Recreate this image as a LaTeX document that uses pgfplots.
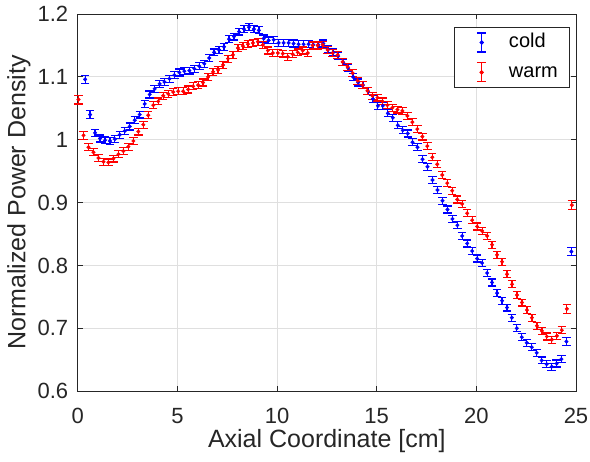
\documentclass[border=0pt]{standalone}
\usepackage{fontspec}
\setmainfont{Liberation Sans}
\usepackage{pgfplots}
\pgfplotsset{compat=1.18}
\usepackage{pgfplotstable}
\definecolor{axgray}{RGB}{38,38,38}
\definecolor{gridgray}{RGB}{223,223,223}

\pgfplotstableread{
x y e
0.37 1.096 0.0066
0.62 1.040 0.0066
0.87 1.011 0.0055
1.12 1.002 0.0055
1.37 0.999 0.0055
1.62 0.998 0.0055
1.86 1.001 0.0055
2.11 1.008 0.0055
2.36 1.014 0.0055
2.61 1.021 0.0055
2.86 1.031 0.0055
3.11 1.040 0.0055
3.36 1.057 0.0055
3.61 1.072 0.0055
3.86 1.081 0.0055
4.11 1.089 0.0055
4.35 1.092 0.0055
4.60 1.097 0.0055
4.85 1.103 0.0055
5.10 1.107 0.0055
5.35 1.109 0.0055
5.60 1.110 0.0055
5.85 1.113 0.0055
6.10 1.117 0.0055
6.35 1.121 0.0055
6.60 1.130 0.0055
6.84 1.139 0.0055
7.09 1.143 0.0055
7.34 1.148 0.0055
7.59 1.160 0.0055
7.84 1.164 0.0055
8.09 1.172 0.0055
8.34 1.176 0.0055
8.59 1.179 0.0055
8.84 1.176 0.0055
9.09 1.174 0.0055
9.33 1.161 0.0055
9.58 1.158 0.0055
9.83 1.159 0.0055
10.08 1.154 0.0055
10.33 1.154 0.0055
10.58 1.154 0.0055
10.83 1.153 0.0055
11.08 1.152 0.0055
11.33 1.152 0.0055
11.58 1.152 0.0055
11.82 1.151 0.0055
12.07 1.151 0.0055
12.32 1.153 0.0055
12.57 1.144 0.0055
12.82 1.139 0.0055
13.07 1.133 0.0055
13.32 1.123 0.0055
13.57 1.114 0.0055
13.82 1.100 0.0055
14.07 1.091 0.0055
14.31 1.087 0.0055
14.56 1.077 0.0055
14.81 1.065 0.0055
15.06 1.054 0.0055
15.31 1.054 0.0055
15.56 1.042 0.0055
15.81 1.035 0.0055
16.06 1.023 0.0055
16.31 1.015 0.0055
16.56 1.010 0.0055
16.80 0.996 0.0055
17.05 0.988 0.0055
17.30 0.969 0.0055
17.55 0.957 0.0055
17.80 0.936 0.0055
18.05 0.920 0.0055
18.30 0.903 0.0055
18.55 0.889 0.0055
18.80 0.874 0.0055
19.05 0.864 0.0055
19.29 0.847 0.0055
19.54 0.835 0.0055
19.79 0.823 0.0055
20.04 0.811 0.0055
20.29 0.804 0.0055
20.54 0.788 0.0055
20.79 0.773 0.0055
21.04 0.756 0.0055
21.29 0.744 0.0055
21.54 0.733 0.0055
21.78 0.717 0.0055
22.03 0.700 0.0055
22.28 0.686 0.0055
22.53 0.677 0.0055
22.78 0.670 0.0055
23.03 0.661 0.0055
23.28 0.649 0.0055
23.53 0.643 0.0055
23.78 0.639 0.0055
24.03 0.644 0.0055
24.27 0.651 0.0055
24.52 0.679 0.0060
24.77 0.822 0.0066
}\colddata

\pgfplotstableread{
x y e
0.04 1.064 0.0070
0.29 1.007 0.0060
0.54 0.988 0.0055
0.79 0.980 0.0055
1.04 0.971 0.0055
1.29 0.965 0.0055
1.54 0.964 0.0055
1.79 0.970 0.0055
2.04 0.977 0.0055
2.29 0.982 0.0055
2.54 0.989 0.0055
2.79 0.998 0.0055
3.04 1.013 0.0055
3.29 1.024 0.0055
3.54 1.039 0.0055
3.79 1.055 0.0055
4.04 1.061 0.0055
4.29 1.070 0.0055
4.54 1.073 0.0055
4.79 1.076 0.0055
5.04 1.077 0.0055
5.29 1.077 0.0055
5.54 1.080 0.0055
5.79 1.085 0.0055
6.04 1.087 0.0055
6.29 1.091 0.0055
6.54 1.100 0.0055
6.79 1.108 0.0055
7.04 1.111 0.0055
7.29 1.119 0.0055
7.54 1.129 0.0055
7.79 1.135 0.0055
8.04 1.146 0.0055
8.29 1.149 0.0055
8.54 1.152 0.0055
8.79 1.154 0.0055
9.04 1.156 0.0055
9.29 1.151 0.0055
9.54 1.142 0.0055
9.79 1.138 0.0055
10.04 1.138 0.0055
10.29 1.137 0.0055
10.54 1.132 0.0055
10.79 1.136 0.0055
11.04 1.139 0.0055
11.29 1.142 0.0055
11.54 1.138 0.0055
11.79 1.150 0.0055
12.04 1.150 0.0055
12.29 1.151 0.0055
12.54 1.143 0.0055
12.79 1.138 0.0055
13.04 1.135 0.0055
13.29 1.124 0.0055
13.54 1.116 0.0055
13.79 1.106 0.0055
14.04 1.094 0.0055
14.29 1.087 0.0055
14.54 1.078 0.0055
14.79 1.070 0.0055
15.04 1.067 0.0055
15.29 1.061 0.0055
15.54 1.055 0.0055
15.79 1.051 0.0055
16.04 1.048 0.0055
16.29 1.046 0.0055
16.54 1.038 0.0055
16.79 1.028 0.0055
17.04 1.017 0.0055
17.29 1.005 0.0055
17.54 0.990 0.0055
17.79 0.972 0.0055
18.04 0.961 0.0055
18.29 0.944 0.0055
18.54 0.931 0.0055
18.79 0.919 0.0055
19.04 0.905 0.0055
19.29 0.898 0.0055
19.54 0.883 0.0055
19.79 0.872 0.0055
20.04 0.862 0.0055
20.29 0.855 0.0055
20.54 0.847 0.0055
20.79 0.833 0.0055
21.04 0.817 0.0055
21.29 0.806 0.0055
21.54 0.786 0.0055
21.79 0.770 0.0055
22.04 0.753 0.0055
22.29 0.741 0.0055
22.54 0.729 0.0055
22.79 0.717 0.0055
23.04 0.704 0.0055
23.29 0.696 0.0055
23.54 0.687 0.0055
23.79 0.682 0.0055
24.04 0.688 0.0055
24.29 0.697 0.0055
24.54 0.731 0.0070
24.79 0.896 0.0075
}\warmdata

\begin{document}
\begin{tikzpicture}
\begin{axis}[
  scale only axis,
  width=498pt, height=377pt,
  xmin=0, xmax=25, ymin=0.6, ymax=1.2,
  xtick={0,5,10,15,20,25},
  ytick={0.6,0.7,0.8,0.9,1,1.1,1.2},
  clip=false,
  axis line style={axgray, line width=0.9pt},
  tick style={axgray, line width=0.9pt},
  tick align=inside,
  major tick length=5pt,
  grid=major,
  major grid style={gridgray, line width=0.8pt},
  /pgf/number format/assume math mode=true,
  ticklabel style={font=\fontsize{22}{26}\selectfont, text=axgray, inner sep=0pt},
  xticklabel style={yshift=-17pt},
  yticklabel style={xshift=-9.4pt},
  xlabel={Axial Coordinate [cm]},
  ylabel={Normalized Power Density},
  label style={font=\fontsize{25}{30}\selectfont, text=axgray},
  xlabel style={at={(axis description cs:0.5,-0.1308)}, anchor=center},
  ylabel style={at={(axis description cs:-0.118,0.5)}, anchor=center, rotate=0},
  legend style={at={(0.9866,0.9647)}, anchor=north east, draw=axgray, line width=0.8pt,
    font=\fontsize{20}{24}\selectfont, inner xsep=11pt, inner ysep=4.7pt,
    row sep=9.6pt, column sep=22pt,
    nodes={inner sep=0pt, text height=14pt, text depth=4pt}},
  legend cell align=left,
]
\addplot[blue, only marks, mark=*, mark size=1.8pt,
  legend image code/.code={
    \path (-16pt,0) (4.7pt,0);
    \draw[draw=blue, line width=1.2pt] (-4.7pt,-9.5pt) -- (4.7pt,-9.5pt)
       (0pt,-9.5pt) -- (0pt,9.5pt) (-4.7pt,9.5pt) -- (4.7pt,9.5pt);
    \fill[fill=blue] (0,0) circle (1.8pt);
  },
  error bars/.cd, y dir=both, y explicit,
  error bar style={blue, line width=1.2pt},
  error mark options={blue, rotate=90, mark size=4.2pt, line width=1.2pt}]
  table[x=x, y=y, y error=e] {\colddata};
\addlegendentry{cold}
\addplot[red, only marks, mark=*, mark size=1.8pt,
  legend image code/.code={
    \path (-16pt,0) (4.7pt,0);
    \draw[draw=red, line width=1.2pt] (-4.7pt,-9.5pt) -- (4.7pt,-9.5pt)
       (0pt,-9.5pt) -- (0pt,9.5pt) (-4.7pt,9.5pt) -- (4.7pt,9.5pt);
    \fill[fill=red] (0,0) circle (1.8pt);
  },
  error bars/.cd, y dir=both, y explicit,
  error bar style={red, line width=1.2pt},
  error mark options={red, rotate=90, mark size=4.2pt, line width=1.2pt}]
  table[x=x, y=y, y error=e] {\warmdata};
\addlegendentry{warm}
\end{axis}
\pgfresetboundingbox
\path (-77.7pt,-70.3pt) rectangle (512pt,391pt);
\end{tikzpicture}
\end{document}
